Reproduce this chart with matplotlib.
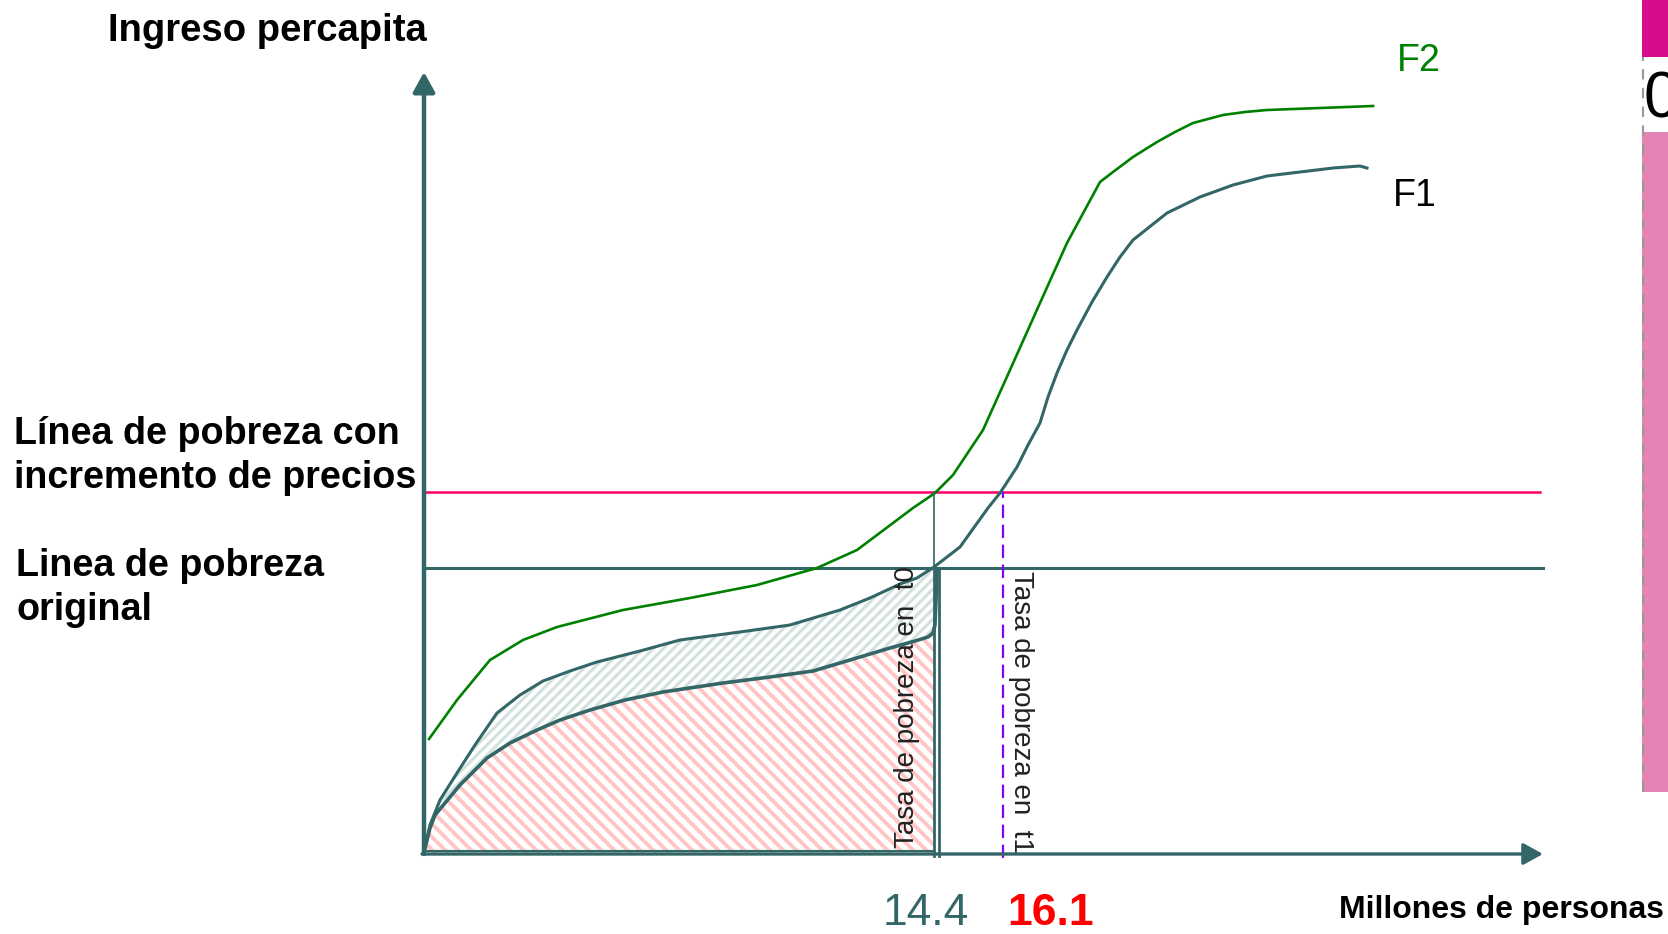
import numpy as np
import matplotlib
matplotlib.use("Agg")
from matplotlib import pyplot as plt
from matplotlib.patches import Polygon, Rectangle
from matplotlib.collections import LineCollection

plt.rcParams['font.family'] = ['Liberation Sans', 'DejaVu Sans']

# diagram units: x = personas (origin at the y axis), y = ingreso (origin at the x axis)
f2_x = [6, 34, 67, 100, 134, 200, 267, 334, 394, 434, 490, 512, 530, 560, 587,
        617, 644, 677, 690, 710, 734, 752, 770, 800, 822, 844, 950]
f2_y = [115, 154, 194, 214, 227, 244, 256, 269, 286, 304, 346, 361, 379, 424, 484,
        551, 611, 672, 682, 697, 712, 722, 731, 739, 742, 744, 748]

f1_x = [2, 7, 17, 34, 52, 74, 97, 120, 147, 174, 217, 257, 317, 367, 417, 447, 477, 494,
        511, 537, 565, 577, 594, 605, 617, 625, 634, 644, 654, 669, 684, 697, 710, 744,
        777, 810, 844, 910, 937, 944]
f1_y = [6, 29, 54, 81, 109, 141, 159, 173, 183, 192, 203, 214, 222, 229, 244, 256, 270, 276,
        287, 307, 346, 361, 387, 409, 431, 457, 481, 504, 524, 552, 577, 597, 614, 641,
        657, 669, 678, 686, 688, 686]

f0_x = [2, 7, 12, 37, 64, 87, 114, 137, 167, 202, 240, 300, 347, 390, 427, 467, 492, 505,
        510, 512, 513, 514]
f0_y = [6, 26, 39, 69, 96, 111, 124, 134, 144, 154, 162, 171, 177, 183, 194, 206, 213, 217,
        221, 229, 254, 284]

linea_original = 286
linea_precios = 362
t0_x = 511
t1_x = 580
t0_label = "14.4"
t1_label = "16.1"

teal = "#336666"
green = "#008000"
pink = "#ff0066"

fig = plt.figure(figsize=(16.68, 9.34), dpi=100)
ax = fig.add_axes([0, 0, 1, 1])
ax.set_xlim(-423, 1245)
ax.set_ylim(-80, 854)
ax.axis("off")


def stripes(verts, color, slope, spacing, lw):
    verts = np.asarray(verts, dtype=float)
    poly = Polygon(verts, closed=True, facecolor="white", edgecolor="none", zorder=1)
    ax.add_patch(poly)
    x0, x1 = verts[:, 0].min(), verts[:, 0].max()
    y0, y1 = verts[:, 1].min(), verts[:, 1].max()
    h = y1 - y0
    segs = []
    for c in np.arange(x0 - h, x1 + h, spacing):
        if slope > 0:
            segs.append([(c, y0), (c + h, y1)])
        else:
            segs.append([(c, y1), (c + h, y0)])
    lc = LineCollection(segs, colors=color, linewidths=lw, zorder=1.5)
    lc.set_clip_path(poly)
    ax.add_collection(lc)


# pink area under the lower curve
lower = list(zip(f0_x, f0_y))
cut = [p for p in lower if p[0] <= t0_x - 1]
pink_verts = [(0, 0)] + cut + [(t0_x, cut[-1][1]), (t0_x, 0)]
stripes(pink_verts, "#ffc6c6", -1, 13, 2.8)

# grey band between the two lower curves
upper = [p for p in zip(f1_x, f1_y) if p[0] <= t0_x]
gray_verts = upper + lower[::-1]
stripes(gray_verts, "#d2e1de", 1, 10, 2.2)

# poverty lines
ax.plot([0, 1117], [linea_precios, linea_precios], color=pink, lw=1.8, zorder=3)
ax.plot([0, 1120], [linea_original, linea_original], color=teal, lw=2.2, zorder=3)

# curves
ax.plot(f2_x, f2_y, color=green, lw=1.9, zorder=4, solid_joinstyle="round")
ax.plot(f1_x, f1_y, color=teal, lw=2.2, zorder=4, solid_joinstyle="round")
ax.plot(f0_x, f0_y, color=teal, lw=2.6, zorder=4, solid_joinstyle="round")

# vertical markers
ax.plot([t0_x, t0_x], [linea_original, linea_precios], color=teal, lw=1.2, zorder=4)
ax.plot([t0_x, t0_x], [-2, linea_original], color=teal, lw=2.0, zorder=4)
ax.plot([t0_x + 5, t0_x + 5], [-2, linea_original], color=teal, lw=2.0, zorder=4)
ax.plot([0, t0_x], [3, 3], color=teal, lw=1.5, zorder=4)
ax.plot([t1_x, t1_x], [-4, linea_precios], color="#7f00ff", lw=1.6,
        dashes=(6, 3), zorder=4)

# axes with arrows
ax.annotate("", xy=(1, 782), xytext=(1, 0),
            arrowprops=dict(arrowstyle="-|>,head_length=0.6,head_width=0.33",
                            color=teal, lw=3.2, mutation_scale=20,
                            shrinkA=0, shrinkB=0), zorder=5)
ax.annotate("", xy=(1120, 0), xytext=(-1, 0),
            arrowprops=dict(arrowstyle="-|>,head_length=0.6,head_width=0.33",
                            color=teal, lw=2.4, mutation_scale=20,
                            shrinkA=0, shrinkB=0), zorder=5)

# texts (va="baseline" on multi-line text anchors the last line here)
ax.text(-315, 813, "Ingreso percapita", fontsize=27.5, fontweight="bold",
        ha="left", va="baseline")
ax.text(-409, 366, "Línea de pobreza con\nincremento de precios", fontsize=27.2,
        fontweight="bold", ha="left", va="baseline", linespacing=1.3)
ax.text(-407, 234, "Linea de pobreza\noriginal", fontsize=27.2,
        fontweight="bold", ha="left", va="baseline", linespacing=1.3)
ax.text(1241, -64, "Millones de personas", fontsize=23, fontweight="bold",
        ha="right", va="baseline")
ax.text(503, -71, t0_label, fontsize=32, color=teal, ha="center", va="baseline")
ax.text(628, -71, t1_label, fontsize=32, color="red", fontweight="bold",
        ha="center", va="baseline")
ax.text(974, 783, "F2", fontsize=27, color=green, ha="left", va="baseline")
ax.text(970, 648, "F1", fontsize=27, color="black", ha="left", va="baseline")
ax.text(484, 147, "Tasa de pobreza en  t0", fontsize=20, color="#222222",
        rotation=90, ha="center", va="center", zorder=6)
ax.text(598, 142, "Tasa de pobreza en  t1", fontsize=20, color="#222222",
        rotation=-90, ha="center", va="center", zorder=6)

# piece of the slide border at the right edge
ax.add_patch(Rectangle((1219, 797), 30, 60, facecolor="#d80b8c", edgecolor="none"))
ax.add_patch(Rectangle((1219, 62), 30, 660, facecolor="#e384b4", edgecolor="none"))
ax.plot([1220, 1220], [62, 797], color="#999999", lw=1.5, dashes=(5, 4))
ax.text(1221, 736, "0", fontsize=46, ha="left", va="baseline")

fig.savefig("out.png", dpi=100)
